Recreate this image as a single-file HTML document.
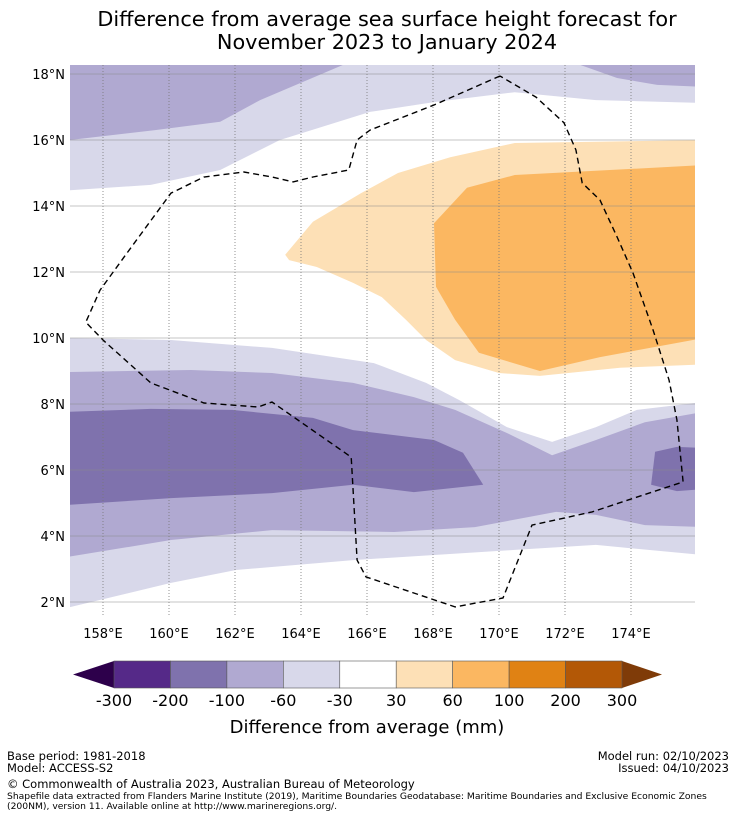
<!DOCTYPE html>
<html><head><meta charset="utf-8"><style>
body{margin:0;background:#fff;width:736px;height:816px;overflow:hidden;font-family:"DejaVu Sans","Liberation Sans",sans-serif}
svg text{font-family:"DejaVu Sans","Liberation Sans",sans-serif}
</style></head><body>
<svg id="chart" width="736" height="816" viewBox="0 0 736 816" xmlns="http://www.w3.org/2000/svg">
<text x="387" y="26" font-size="20.8" text-anchor="middle">Difference from average sea surface height forecast for</text>
<text x="387" y="49" font-size="20.8" text-anchor="middle">November 2023 to January 2024</text>
<defs><clipPath id="mapclip"><rect x="70" y="65" width="625" height="550"/></clipPath></defs>
<g id="map" clip-path="url(#mapclip)"></g>
<g id="axes"></g>
<g id="cbar"></g>
<text x="367" y="733" font-size="18" text-anchor="middle">Difference from average (mm)</text>
<g font-size="11.5">
<text x="7" y="760">Base period: 1981-2018</text>
<text x="7" y="772">Model: ACCESS-S2</text>
<text x="729" y="760" text-anchor="end">Model run: 02/10/2023</text>
<text x="729" y="772" text-anchor="end">Issued: 04/10/2023</text>
<text x="7" y="788">© Commonwealth of Australia 2023, Australian Bureau of Meteorology</text>
<text x="7" y="799" font-size="9.2">Shapefile data extracted from Flanders Marine Institute (2019), Maritime Boundaries Geodatabase: Maritime Boundaries and Exclusive Economic Zones</text>
<text x="7" y="809" font-size="9.2">(200NM), version 11. Available online at http://www.marineregions.org/.</text>
</g>
</svg>
<script>
const lonTicks=[158,160,162,164,166,168,170,172,174];
const latTicks=[2,4,6,8,10,12,14,16,18];
const cbLevels=["-300","-200","-100","-60","-30","30","60","100","200","300"];
const cbColors=["#552988","#7f72ad","#b0a9d1","#d8d8ea","#ffffff","#fde0b6","#fbb761","#e08214","#b35806"];
const cbExtLow="#2d004b", cbExtHigh="#7f3b08";
const regionTopMid=[[157,18.3],[165.33,18.3],[162.76,17.21],[161.55,16.55],[159.58,16.3],[157,16.0]];
const regionTopLight=[[157,18.3],[176.2,18.3],[176.2,17.12],[172.94,17.21],[170.48,17.45],[168.03,17.15],[166.09,16.85],[163.36,16.0],[161.55,15.09],[159.45,14.64],[157,14.48]];
const regionTopRightMid=[[172.39,18.3],[173.58,17.88],[174.79,17.67],[176.2,17.61],[176.2,18.3]];
const regionOrangeLight=[[176.2,16],[170.48,15.91],[168.52,15.48],[166.94,15.0],[165.82,14.39],[164.36,13.52],[163.52,12.52],[163.64,12.36],[164.48,12.15],[165.58,11.67],[166.45,11.24],[167.18,10.55],[167.79,9.94],[168.67,9.33],[170,8.94],[171.24,8.85],[173.67,9.1],[176.2,9.2]];
const regionOrangeMid=[[176.2,15.24],[170.48,14.94],[169.03,14.55],[168.03,13.48],[168.09,11.55],[168.67,10.55],[169.39,9.55],[171.24,9.0],[173.06,9.42],[176.2,10.0]];
const regionLowLight=[[156.9,10.0],[160.06,9.94],[163.12,9.70],[166.21,9.24],[167.79,8.64],[168.79,8.12],[170.24,7.30],[171.61,6.85],[172.94,7.30],[174.18,7.82],[176.2,8.06],[176.2,3.42],[172.94,3.73],[170.48,3.58],[165.58,3.27],[162.03,2.97],[160.06,2.58],[156.9,1.82]];
const regionLowMid=[[156.9,8.97],[160.67,9.03],[163.12,8.94],[165.58,8.64],[167.42,8.21],[168.67,7.82],[170.24,7.12],[171.61,6.45],[172.94,6.91],[174.42,7.45],[176.2,7.76],[176.2,4.27],[174.42,4.33],[172.94,4.64],[171.73,4.73],[169.27,4.27],[166.82,4.12],[163.12,4.18],[160.06,3.88],[156.9,3.36]];
const regionLowDark=[[156.9,7.76],[159.45,7.85],[161.91,7.82],[164.36,7.58],[165.58,7.21],[168.03,6.91],[168.91,6.52],[169.52,5.55],[167.42,5.33],[165.58,5.55],[163.12,5.30],[160.06,5.15],[156.9,4.94]];
const regionRightDark=[[174.73,6.55],[175.39,6.70],[176.2,6.67],[176.2,5.42],[175.39,5.36],[174.61,5.55]];
const eezBoundary=[[170.03,17.94],[168.03,17.06],[166.09,16.30],[165.70,16.0],[165.45,15.09],[164.36,14.88],[163.76,14.73],[163.12,14.88],[162.27,15.03],[161.06,14.88],[160.06,14.39],[158.73,12.58],[157.91,11.45],[157.48,10.48],[158.0,9.94],[159.45,8.64],[161.06,8.03],[162.70,7.91],[163.12,8.06],[165.52,6.39],[165.70,3.27],[165.97,2.76],[168.67,1.85],[170.12,2.12],[171.0,4.33],[172.82,4.73],[175.58,5.64],[175.39,7.52],[175.15,8.73],[174.67,10.24],[174.06,11.97],[173.58,13.06],[173.06,14.18],[172.52,14.70],[172.33,15.70],[171.97,16.52],[171.12,17.30],[170.03,17.94]];
const NS="http://www.w3.org/2000/svg";
function xS(lon){return 70+(lon-157)*33;}
function yS(lat){return 74+(18-lat)*33;}
function mk(tag,attrs,parent){const e=document.createElementNS(NS,tag);for(const k in attrs)e.setAttribute(k,attrs[k]);parent.appendChild(e);return e;}
function pts(arr){return arr.map(p=>xS(p[0]).toFixed(1)+","+yS(p[1]).toFixed(1)).join(" ");}
const map=document.getElementById('map');
const regions=[["top-mid",regionTopMid,cbColors[2]],["top-light",regionTopLight,cbColors[3]],["top-mid-right",regionTopRightMid,cbColors[2]],["low-light",regionLowLight,cbColors[3]],["low-mid",regionLowMid,cbColors[2]],["low-dark",regionLowDark,cbColors[1]],["right-dark",regionRightDark,cbColors[1]],["orange-light",regionOrangeLight,cbColors[5]],["orange-mid",regionOrangeMid,cbColors[6]]];
const order=[1,0,2,3,4,5,6,7,8];
order.forEach(i=>{const r=regions[i];
 const p=mk('polygon',{points:pts(r[1]),fill:r[2]},map);
 
 
});
const axes=document.getElementById('axes');
lonTicks.forEach(l=>{
 const g=mk('line',{x1:xS(l),x2:xS(l),y1:65,y2:615,stroke:'#777','stroke-width':0.8,'stroke-dasharray':'1,2'},map);
 
 
 const t=mk('text',{x:xS(l),y:638,'font-size':13,'text-anchor':'middle'},axes);t.textContent=l+'°E';
 
 
});
latTicks.forEach(l=>{
 const g=mk('line',{x1:70,x2:695,y1:yS(l),y2:yS(l),stroke:'#8a8a8a','stroke-width':0.5},map);
 
 
 const t=mk('text',{x:65,y:yS(l)+5,'font-size':13,'text-anchor':'end'},axes);t.textContent=l+'°N';
 
 
});
const eez=mk('polyline',{points:pts(eezBoundary),fill:'none',stroke:'#000','stroke-width':1.4,'stroke-dasharray':'6,4'},map);


const cb=document.getElementById('cbar');
const bx0=114,bx1=622,by0=661,by1=688,bw=(bx1-bx0)/cbColors.length;
const lo=mk('polygon',{points:`${bx0},${by0} 73,674.5 ${bx0},${by1}`,fill:cbExtLow},cb);


const hi=mk('polygon',{points:`${bx1},${by0} 662,674.5 ${bx1},${by1}`,fill:cbExtHigh},cb);


cbColors.forEach((c,i)=>{
 const r=mk('rect',{x:bx0+i*bw,y:by0,width:bw,height:by1-by0,fill:c,stroke:'#555','stroke-width':0.6},cb);
 
 
});
cbLevels.forEach((lv,i)=>{
 const t=mk('text',{x:bx0+i*bw,y:706,'font-size':16,'text-anchor':'middle'},cb);t.textContent=lv;
 
 
});
</script>
</body></html>
